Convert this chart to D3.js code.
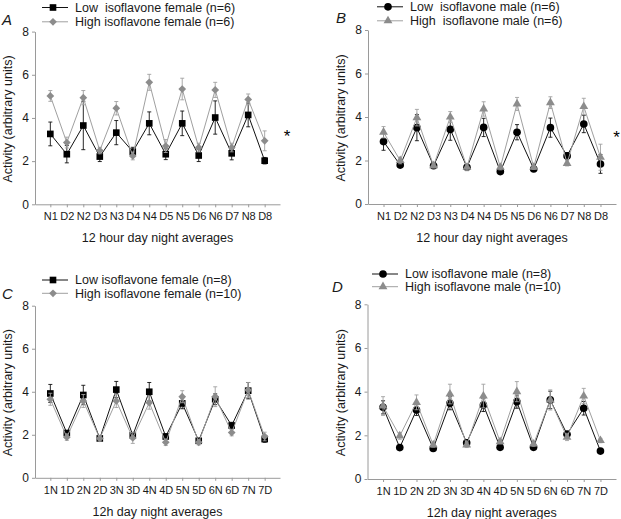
<!DOCTYPE html>
<html>
<head>
<meta charset="utf-8">
<script src="https://cdn.jsdelivr.net/npm/d3@7"></script>
<style>
  html, body { margin: 0; padding: 0; background: #fff; }
  svg { display: block; font-family: "Liberation Sans", Arial, Helvetica, sans-serif; }
</style>
</head>
<body>
<svg id="chart" width="621" height="519"></svg>
<script>
// ---------------- DATA ----------------
const catsAB = ["N1","D2","N2","D3","N3","D4","N4","D5","N5","D6","N6","D7","N8","D8"];
const catsCD = ["1N","1D","2N","2D","3N","3D","4N","4D","5N","5D","6N","6D","7N","7D"];
const yTicks = [0, 2, 4, 6, 8];

// Panel A: females, 12 hour day/night averages
const aLow      = [3.26, 2.32, 3.65, 2.21, 3.32, 2.44, 3.75, 2.32, 3.75, 2.26, 4.02, 2.36, 4.14, 2.02];
const aLowErr   = [0.55, 0.40, 1.12, 0.23, 0.56, 0.20, 0.53, 0.25, 0.57, 0.28, 0.77, 0.30, 0.55, 0.15];
const aHigh     = [5.02, 2.86, 4.94, 2.49, 4.45, 2.24, 5.65, 2.70, 5.34, 2.63, 5.30, 2.63, 4.86, 2.94];
const aHighErr  = [0.25, 0.25, 0.33, 0.15, 0.31, 0.18, 0.37, 0.30, 0.50, 0.20, 0.35, 0.20, 0.25, 0.46];

// Panel B: males, 12 hour day/night averages
const bLow      = [2.87, 1.79, 3.51, 1.76, 3.43, 1.69, 3.52, 1.49, 3.30, 1.61, 3.51, 2.21, 3.68, 1.84];
const bLowErr   = [0.40, 0.10, 0.60, 0.10, 0.50, 0.10, 0.42, 0.10, 0.35, 0.10, 0.44, 0.15, 0.40, 0.43];
const bHigh     = [3.30, 2.00, 3.97, 1.76, 4.00, 1.69, 4.37, 1.69, 4.60, 1.69, 4.66, 1.87, 4.48, 2.15];
const bHighErr  = [0.26, 0.15, 0.38, 0.10, 0.25, 0.16, 0.33, 0.12, 0.30, 0.10, 0.27, 0.12, 0.38, 0.60];

// Panel C: females, 12h day/night averages
const cLow      = [3.92, 2.08, 3.85, 1.83, 4.10, 1.98, 4.00, 1.92, 3.46, 1.72, 3.65, 2.43, 4.05, 1.80];
const cLowErr   = [0.42, 0.12, 0.45, 0.10, 0.38, 0.12, 0.43, 0.12, 0.25, 0.10, 0.25, 0.15, 0.38, 0.15];
const cHigh     = [3.65, 1.89, 3.57, 1.83, 3.57, 1.85, 3.49, 1.65, 3.77, 1.65, 3.77, 2.10, 4.08, 1.92];
const cHighErr  = [0.28, 0.15, 0.30, 0.12, 0.30, 0.25, 0.30, 0.15, 0.28, 0.12, 0.46, 0.15, 0.35, 0.20];

// Panel D: males, 12h day/night averages
const dLow      = [3.28, 1.44, 3.16, 1.40, 3.47, 1.66, 3.39, 1.45, 3.54, 1.45, 3.62, 2.05, 3.24, 1.28];
const dLowErr   = [0.30, 0.10, 0.25, 0.10, 0.30, 0.15, 0.30, 0.10, 0.30, 0.10, 0.40, 0.15, 0.31, 0.10];
const dHigh     = [3.34, 1.97, 3.51, 1.56, 3.89, 1.56, 3.80, 1.71, 4.00, 1.60, 3.62, 1.91, 3.80, 1.76];
const dHighErr  = [0.43, 0.15, 0.34, 0.10, 0.45, 0.12, 0.54, 0.10, 0.46, 0.10, 0.46, 0.15, 0.35, 0.10];

const legendA = ["Low  isoflavone female (n=6)", "High isoflavone female (n=6)"];
const legendB = ["Low  isoflavone male (n=6)", "High  isoflavone male (n=6)"];
const legendC = ["Low isoflavone female (n=8)", "High isoflavone female (n=10)"];
const legendD = ["Low isoflavone male (n=8)", "High isoflavone male (n=10)"];
const xTitleAB = "12 hour day night averages";
const xTitleCD = "12h day night averages";
const yTitle = "Activity (arbitrary units)";

// ---------------- LAYOUT ----------------
const panels = [
  { label: "A", cats: catsAB, low: aLow, lowErr: aLowErr, high: aHigh, highErr: aHighErr,
    lowShape: "square", highShape: "diamond", legend: legendA, xTitle: xTitleAB, star: true,
    x0: 35, x1: 280, yTop: 31.6, yBot: 204.3, labelX: 2, labelY: 25,
    legX: 42, legY: 7.5, legDy: 14.3, starX: 287, starY: 142 },
  { label: "B", cats: catsAB, low: bLow, lowErr: bLowErr, high: bHigh, highErr: bHighErr,
    lowShape: "circle", highShape: "triangle", legend: legendB, xTitle: xTitleAB, star: true,
    x0: 368, x1: 616, yTop: 30, yBot: 204, labelX: 336, labelY: 23,
    legX: 377, legY: 6.8, legDy: 14, starX: 616.5, starY: 143 },
  { label: "C", cats: catsCD, low: cLow, lowErr: cLowErr, high: cHigh, highErr: cHighErr,
    lowShape: "square", highShape: "diamond", legend: legendC, xTitle: xTitleCD, star: false,
    x0: 35, x1: 280, yTop: 305.7, yBot: 477.8, labelX: 2, labelY: 298.5,
    legX: 42, legY: 280, legDy: 13.3 },
  { label: "D", cats: catsCD, low: dLow, lowErr: dLowErr, high: dHigh, highErr: dHighErr,
    lowShape: "circle", highShape: "triangle", legend: legendD, xTitle: xTitleCD, star: false,
    x0: 367.5, x1: 616, yTop: 304.3, yBot: 479, labelX: 332, labelY: 291.5,
    legX: 372, legY: 274, legDy: 12.7 }
];

const LOW_COLOR = "#000000";
const HIGH_COLOR = "#8c8c8c";
const HIGH_LINE = "#a0a0a0";
const AXIS_COLOR = "#9a9a9a";
const TEXT_COLOR = "#1a1a1a";

const svg = d3.select("#chart");

function symbolFor(shape) {
  if (shape === "square") return d3.symbol().type(d3.symbolSquare).size(44);
  if (shape === "circle") return d3.symbol().type(d3.symbolCircle).size(46);
  if (shape === "diamond") return d3.symbol().type(d3.symbolSquare).size(30);
  return d3.symbol().type(d3.symbolTriangle).size(34);
}
function rotFor(shape) { return shape === "diamond" ? " rotate(45)" : ""; }

panels.forEach(p => {
  const g = svg.append("g");
  const x = d3.scalePoint().domain(p.cats).range([p.x0, p.x1]).padding(0.93);
  const y = d3.scaleLinear().domain([0, 8]).range([p.yBot, p.yTop]);

  // Y axis
  const yAxis = g.append("g").attr("transform", `translate(${p.x0},0)`)
    .call(d3.axisLeft(y).tickValues(yTicks).tickSize(3).tickPadding(3).tickSizeOuter(0));
  yAxis.select(".domain").attr("stroke", AXIS_COLOR);
  yAxis.selectAll(".tick line").attr("stroke", AXIS_COLOR);
  yAxis.selectAll(".tick text").attr("fill", TEXT_COLOR).style("font-size", "12px");

  // X axis
  const xAxis = g.append("g").attr("transform", `translate(0,${p.yBot})`)
    .call(d3.axisBottom(x).tickSize(3).tickPadding(5).tickSizeOuter(0));
  xAxis.select(".domain").attr("stroke", AXIS_COLOR);
  xAxis.selectAll(".tick line").attr("stroke", AXIS_COLOR);
  xAxis.selectAll(".tick text").attr("fill", TEXT_COLOR).style("font-size", "11px");

  // Titles
  g.append("text").attr("x", (p.x0 + p.x1) / 2 - 0).attr("y", p.yBot + 38)
    .attr("text-anchor", "middle").attr("fill", TEXT_COLOR).style("font-size", "12.5px")
    .text(p.xTitle);
  g.append("text")
    .attr("transform", `translate(${p.x0 - 23},${(p.yTop + p.yBot) / 2 + 1}) rotate(-90)`)
    .attr("text-anchor", "middle").attr("fill", TEXT_COLOR).style("font-size", "12.5px")
    .text(yTitle);

  // Panel label
  g.append("text").attr("x", p.labelX).attr("y", p.labelY)
    .attr("fill", TEXT_COLOR).style("font-size", "15px").style("font-style", "italic")
    .text(p.label);

  const series = [
    { vals: p.low, errs: p.lowErr, shape: p.lowShape, color: LOW_COLOR, line: "#111" },
    { vals: p.high, errs: p.highErr, shape: p.highShape, color: HIGH_COLOR, line: HIGH_LINE }
  ];

  series.forEach(s => {
    const pts = p.cats.map((c, i) => ({ c, v: s.vals[i], e: s.errs[i] }));
    // error bars
    const eb = g.append("g").attr("stroke", s.line).attr("stroke-width", 0.9);
    pts.forEach(d => {
      const cx = x(d.c);
      eb.append("line").attr("x1", cx).attr("x2", cx).attr("y1", y(d.v - d.e)).attr("y2", y(d.v + d.e));
      eb.append("line").attr("x1", cx - 2).attr("x2", cx + 2).attr("y1", y(d.v + d.e)).attr("y2", y(d.v + d.e));
      eb.append("line").attr("x1", cx - 2).attr("x2", cx + 2).attr("y1", y(d.v - d.e)).attr("y2", y(d.v - d.e));
    });
    // line
    g.append("path").datum(pts)
      .attr("fill", "none").attr("stroke", s.line).attr("stroke-width", 1)
      .attr("d", d3.line().x(d => x(d.c)).y(d => y(d.v)));
    // markers
    const sym = symbolFor(s.shape);
    g.append("g").selectAll("path").data(pts).join("path")
      .attr("transform", d => `translate(${x(d.c)},${y(d.v)})` + rotFor(s.shape))
      .attr("d", sym).attr("fill", s.color);
  });

  // Legend
  const leg = g.append("g");
  series.forEach((s, i) => {
    const ly = p.legY + i * p.legDy;
    leg.append("line").attr("x1", p.legX).attr("x2", p.legX + 26).attr("y1", ly).attr("y2", ly)
      .attr("stroke", s.line).attr("stroke-width", 1);
    leg.append("path").attr("transform", `translate(${p.legX + 11},${ly})` + rotFor(s.shape))
      .attr("d", symbolFor(s.shape)).attr("fill", s.color);
    leg.append("text").attr("x", p.legX + 33).attr("y", ly + 4.4)
      .attr("fill", TEXT_COLOR).style("font-size", "12.5px").style("white-space", "pre")
      .text(p.legend[i]);
  });

  if (p.star) {
    g.append("text").attr("x", p.starX).attr("y", p.starY).attr("text-anchor", "middle")
      .attr("fill", "#000").style("font-size", "17px").text("*");
  }
});
</script>
</body>
</html>
